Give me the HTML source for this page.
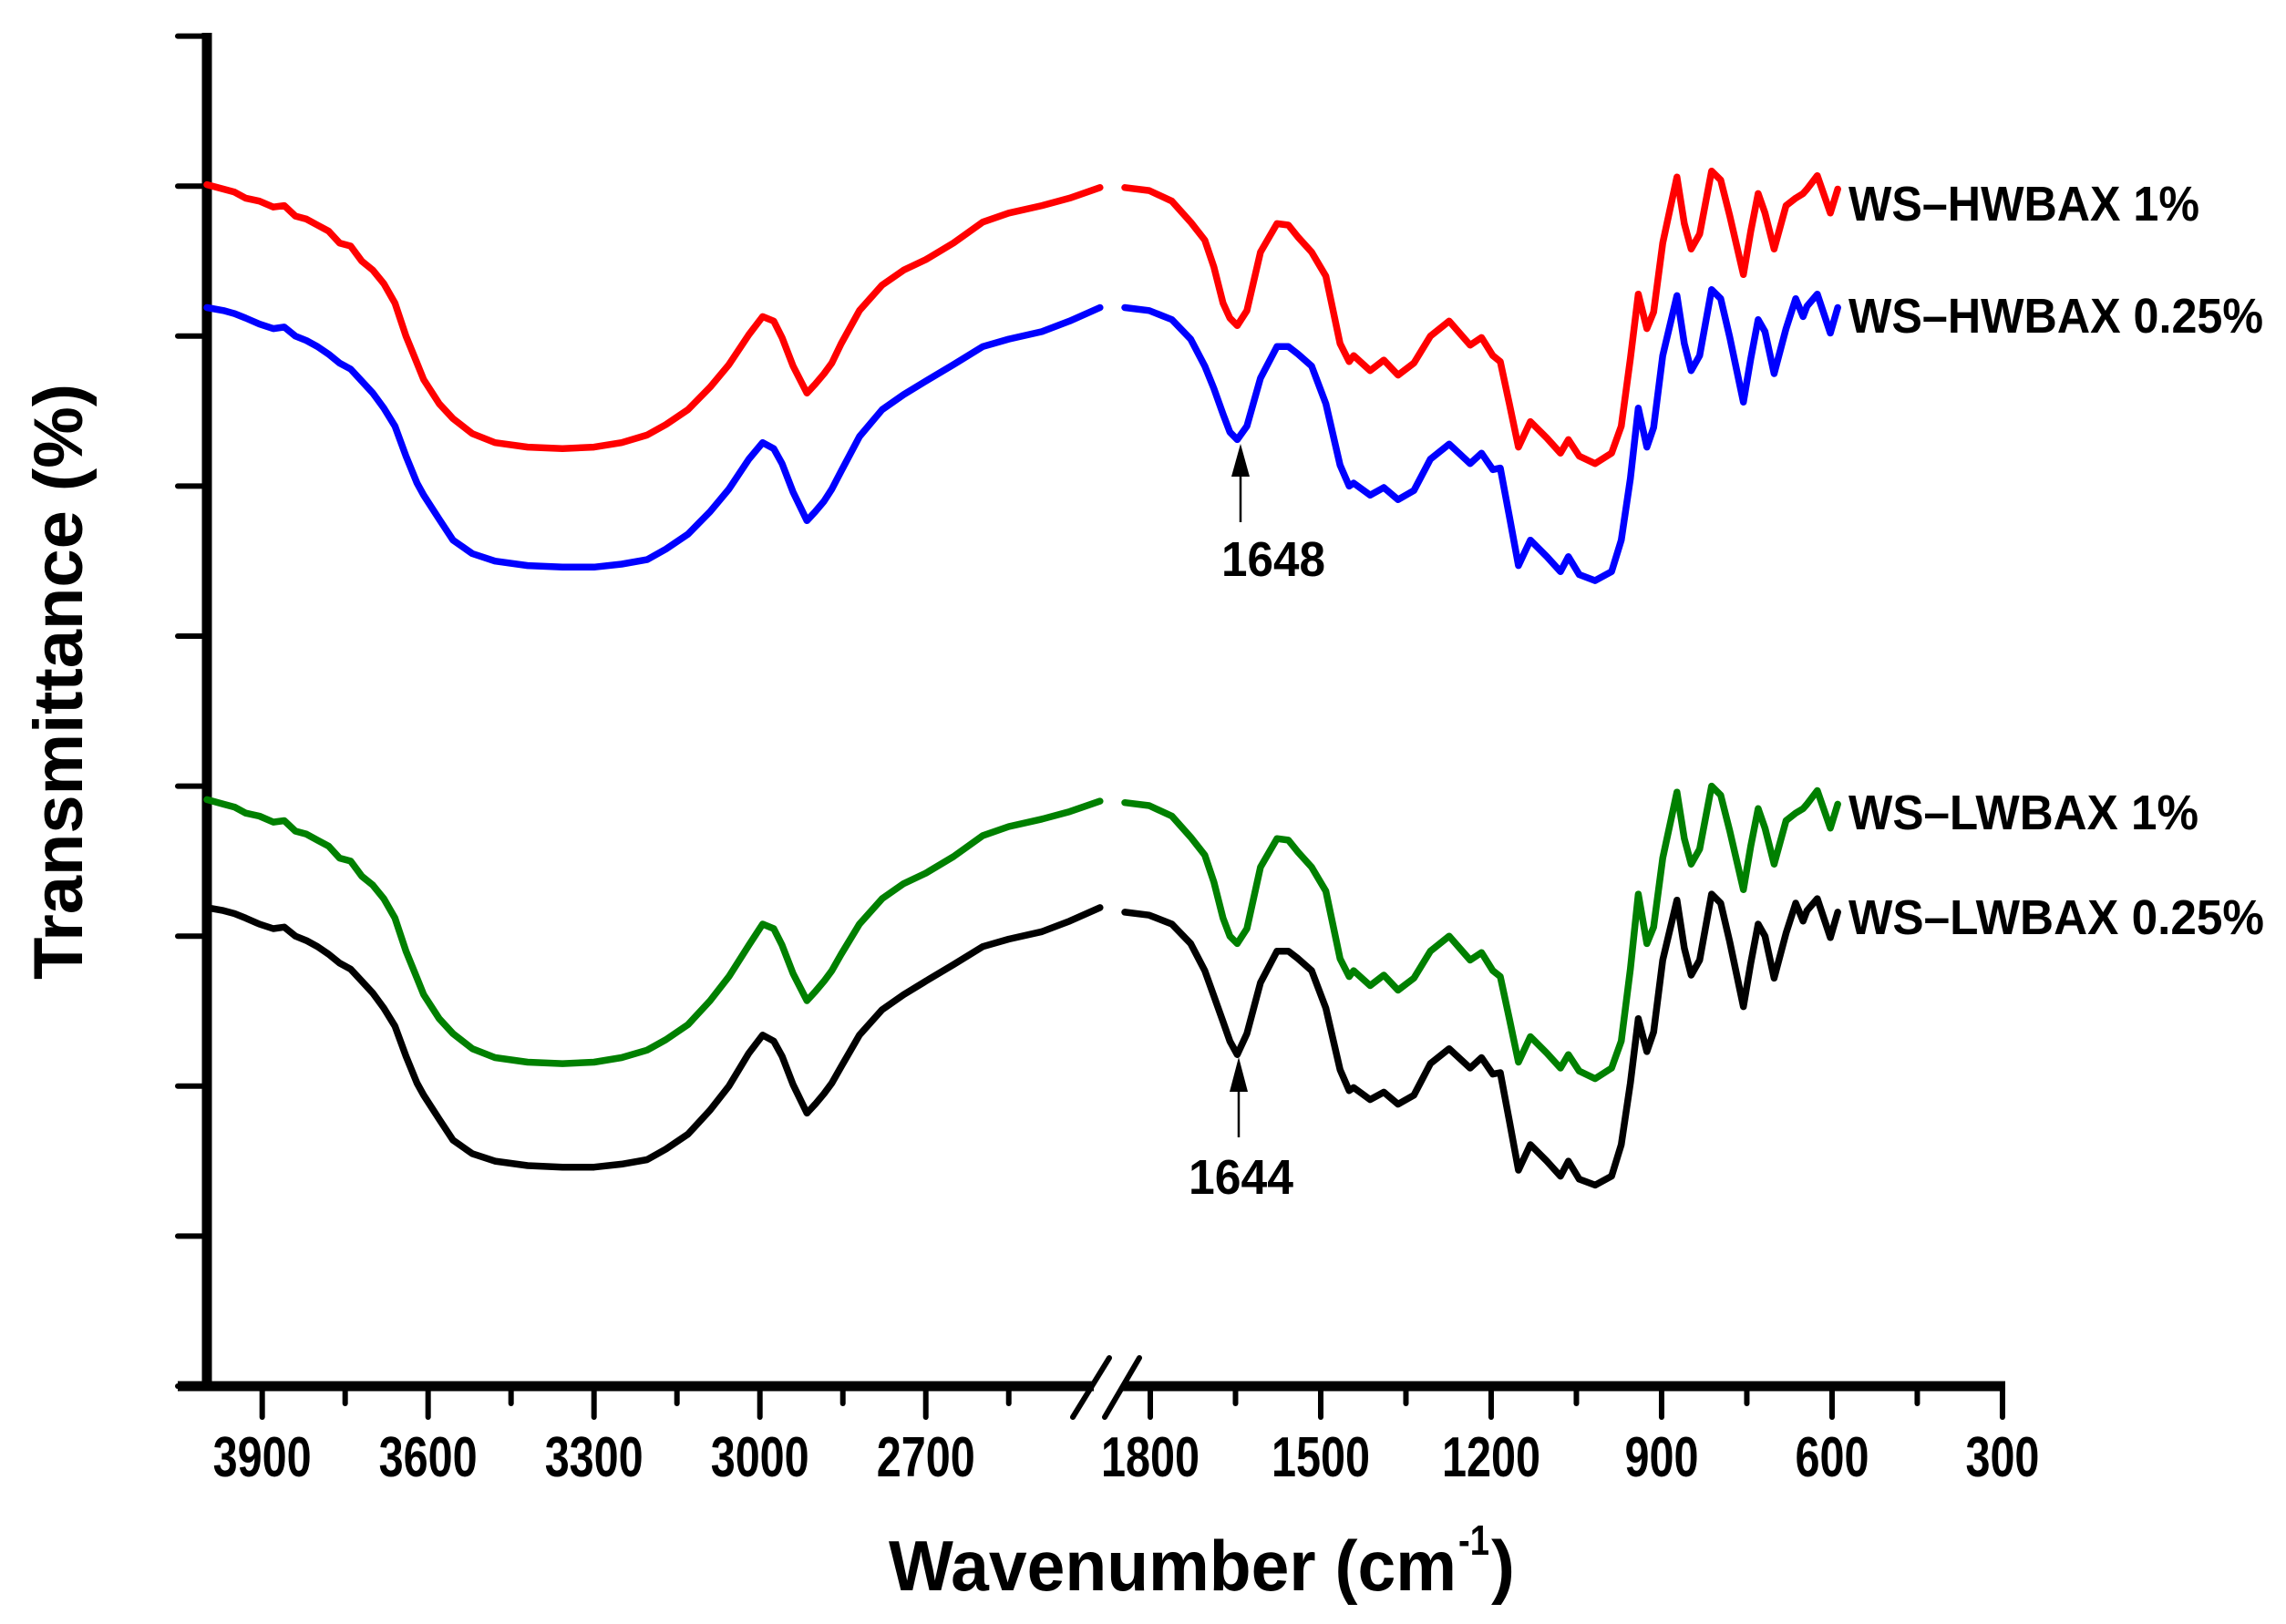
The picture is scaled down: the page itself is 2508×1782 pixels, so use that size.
<!DOCTYPE html>
<html><head><meta charset="utf-8">
<style>
html,body{margin:0;padding:0;background:#fff;}
svg{display:block;}
text{font-family:"Liberation Sans",Arial,sans-serif;font-weight:bold;fill:#000;}
</style></head>
<body>
<svg id="chart" width="2508" height="1782" viewBox="0 0 2508 1782" xmlns="http://www.w3.org/2000/svg">
<rect x="0" y="0" width="2508" height="1782" fill="#fff"/>
<g id="axes"></g>
<g id="series"></g>
<g id="labels">
<text transform="translate(90,748) rotate(-90)" text-anchor="middle" font-size="76" textLength="654" lengthAdjust="spacingAndGlyphs">Transmittance (%)</text>
<text x="975" y="1745" font-size="78" textLength="623" lengthAdjust="spacingAndGlyphs">Wavenumber (cm</text>
<text x="1600" y="1706" font-size="46" textLength="34" lengthAdjust="spacingAndGlyphs">-1</text>
<text x="1636" y="1745" font-size="78" textLength="26" lengthAdjust="spacingAndGlyphs">)</text>
<text x="2028" y="242" font-size="54" textLength="385" lengthAdjust="spacingAndGlyphs">WS–HWBAX 1%</text>
<text x="2028" y="365" font-size="54" textLength="455" lengthAdjust="spacingAndGlyphs">WS–HWBAX 0.25%</text>
<text x="2028" y="910" font-size="54" textLength="384" lengthAdjust="spacingAndGlyphs">WS–LWBAX 1%</text>
<text x="2028" y="1025" font-size="54" textLength="456" lengthAdjust="spacingAndGlyphs">WS–LWBAX 0.25%</text>
<text x="1340" y="632" font-size="54" textLength="114" lengthAdjust="spacingAndGlyphs">1648</text>
<line x1="1361" y1="573" x2="1361" y2="515" stroke="#000" stroke-width="2.5"/>
<polygon points="1361,487 1351,523 1371,523" fill="#000"/>
<text x="1304" y="1310" font-size="54" textLength="115" lengthAdjust="spacingAndGlyphs">1644</text>
<line x1="1359" y1="1248" x2="1359" y2="1190" stroke="#000" stroke-width="2.5"/>
<polygon points="1359,1160 1349,1198 1369,1198" fill="#000"/>
</g>
</svg>
<script>
// ---- data ----
const wLeft = [4000,3970,3950,3930,3905,3880,3860,3840,3820,3800,3780,3760,3740,3720,3700,3680,3660,3640,3620,3608,3580,3555,3520,3479,3420,3357,3300,3250,3204,3170,3130,3090,3056,3020,2995,2975,2960,2940,2915,2900,2884,2870,2853,2820,2779,2740,2700,2650,2597,2550,2490,2440,2385];
const wRight = [1845,1802,1762,1729,1704,1688,1672,1660,1647,1630,1606,1577,1557,1540,1516,1491,1466,1450,1442,1413,1389,1364,1336,1307,1274,1237,1217,1197,1184,1168,1152,1131,1102,1078,1064,1045,1017,988,971,955,941,926,914,898,873,860,848,833,812,796,780,756,743,730,718,702,681,664,651,644,626,603,590];
const redLeft = [8.01,7.98,7.96,7.92,7.90,7.86,7.87,7.80,7.78,7.74,7.70,7.62,7.60,7.50,7.44,7.35,7.22,7.00,6.82,6.71,6.55,6.45,6.35,6.29,6.26,6.25,6.26,6.29,6.34,6.41,6.51,6.66,6.81,7.01,7.13,7.10,6.99,6.80,6.62,6.68,6.75,6.82,6.95,7.17,7.34,7.44,7.51,7.62,7.76,7.82,7.87,7.92,7.99];
const blueLeft = [7.19,7.17,7.15,7.12,7.08,7.05,7.06,7.00,6.97,6.93,6.88,6.82,6.78,6.70,6.62,6.52,6.40,6.20,6.02,5.94,5.78,5.64,5.55,5.50,5.47,5.46,5.46,5.48,5.51,5.58,5.68,5.83,5.98,6.18,6.29,6.25,6.15,5.96,5.77,5.83,5.90,5.98,6.10,6.33,6.51,6.61,6.70,6.81,6.93,6.98,7.03,7.10,7.19];
const greenLeft = [3.91,3.88,3.86,3.82,3.80,3.76,3.77,3.70,3.68,3.64,3.60,3.52,3.50,3.40,3.34,3.25,3.12,2.90,2.72,2.61,2.45,2.35,2.25,2.19,2.16,2.15,2.16,2.19,2.24,2.31,2.41,2.57,2.73,2.94,3.08,3.05,2.94,2.75,2.57,2.63,2.70,2.77,2.88,3.08,3.25,3.35,3.42,3.53,3.67,3.73,3.78,3.83,3.90];
const blackLeft = [3.19,3.17,3.15,3.12,3.08,3.05,3.06,3.00,2.97,2.93,2.88,2.82,2.78,2.70,2.62,2.52,2.40,2.20,2.02,1.94,1.78,1.64,1.55,1.50,1.47,1.46,1.46,1.48,1.51,1.58,1.68,1.84,2.00,2.22,2.34,2.30,2.20,2.01,1.82,1.88,1.95,2.02,2.13,2.34,2.51,2.61,2.70,2.81,2.93,2.98,3.03,3.10,3.19];
const redRight = [7.99,7.97,7.90,7.76,7.64,7.46,7.22,7.12,7.07,7.17,7.56,7.75,7.74,7.66,7.56,7.40,6.95,6.83,6.87,6.77,6.84,6.74,6.82,7.00,7.10,6.94,6.99,6.87,6.83,6.55,6.26,6.43,6.32,6.22,6.31,6.20,6.15,6.22,6.40,6.85,7.28,7.05,7.16,7.62,8.06,7.75,7.58,7.68,8.10,8.04,7.80,7.41,7.70,7.95,7.82,7.58,7.87,7.92,7.95,7.98,8.07,7.82,7.98];
const blueRight = [7.19,7.17,7.11,6.98,6.80,6.65,6.48,6.36,6.31,6.40,6.72,6.93,6.93,6.88,6.80,6.55,6.14,6.00,6.02,5.94,5.99,5.91,5.97,6.18,6.28,6.15,6.22,6.11,6.12,5.80,5.47,5.64,5.53,5.43,5.53,5.41,5.37,5.43,5.64,6.05,6.52,6.26,6.39,6.87,7.27,6.95,6.77,6.87,7.31,7.25,6.99,6.56,6.85,7.11,7.03,6.75,7.05,7.25,7.13,7.20,7.28,7.02,7.19];
const greenRight = [3.89,3.87,3.80,3.66,3.54,3.36,3.12,3.00,2.95,3.05,3.46,3.65,3.64,3.56,3.46,3.30,2.85,2.73,2.77,2.67,2.74,2.64,2.72,2.90,3.00,2.84,2.89,2.77,2.73,2.45,2.16,2.33,2.22,2.12,2.21,2.10,2.05,2.12,2.30,2.78,3.28,2.95,3.06,3.52,3.96,3.65,3.48,3.58,4.00,3.94,3.70,3.31,3.60,3.85,3.72,3.48,3.77,3.82,3.85,3.88,3.97,3.72,3.88];
const blackRight = [3.16,3.14,3.08,2.95,2.77,2.60,2.43,2.30,2.21,2.35,2.69,2.90,2.90,2.85,2.77,2.52,2.11,1.97,1.99,1.91,1.96,1.88,1.94,2.15,2.25,2.12,2.19,2.08,2.09,1.77,1.44,1.61,1.50,1.40,1.50,1.38,1.34,1.40,1.61,2.02,2.45,2.23,2.36,2.84,3.24,2.92,2.74,2.84,3.28,3.22,2.96,2.53,2.82,3.08,3.00,2.72,3.02,3.22,3.10,3.17,3.25,2.99,3.16];
const leftTickLabels = [3900,3600,3300,3000,2700];
const leftMinorTicks = [3750,3450,3150,2850,2550];
const rightTickLabels = [1800,1500,1200,900,600,300];
const rightMinorTicks = [1650,1350,1050,750,450];
const yTicks = [0,1,2,3,4,5,6,7,8,9];

// ---- scales ----
const NS = "http://www.w3.org/2000/svg";
function xL(w){ return 227 + (4000 - w) * 0.6067; }
function xR(w){ return 1262 + (1800 - w) * 0.6233; }
function yS(v){ return 1521 - v * 164.6; }
function mk(tag, attrs, parent){
  const e = document.createElementNS(NS, tag);
  for (const k in attrs) e.setAttribute(k, attrs[k]);
  parent.appendChild(e);
  return e;
}
const axes = document.getElementById('axes');
const series = document.getElementById('series');

let el = mk('line', {x1:195, y1:1521, x2:1200, y2:1521, stroke:'#000','stroke-width':11}, axes);


el = mk('line', {x1:1232, y1:1521, x2:2200, y2:1521, stroke:'#000','stroke-width':11}, axes);


el = mk('line', {x1:227, y1:36, x2:227, y2:1526, stroke:'#000','stroke-width':11}, axes);


el = mk('rect', {x:1200, y:1508, width:32, height:26, fill:'#fff'}, axes);


el = mk('line', {x1:1177, y1:1555, x2:1217, y2:1490, stroke:'#000','stroke-width':6,'stroke-linecap':'round'}, axes);


el = mk('line', {x1:1212, y1:1555, x2:1250, y2:1490, stroke:'#000','stroke-width':6,'stroke-linecap':'round'}, axes);



yTicks.forEach(function(v){
  const t = mk('line', {x1:195, y1:yS(v), x2:224, y2:yS(v), stroke:'#000','stroke-width':6,'stroke-linecap':'round'}, axes);
  
  
});
function xTick(x, major, label){
  const t = mk('line', {x1:x, y1:1524, x2:x, y2:major?1555:1540, stroke:'#000','stroke-width':6,'stroke-linecap':'round'}, axes);
  
  
  if (label !== undefined){
    const s = String(label);
    const tx = mk('text', {x:x, y:1620, 'font-size':62, 'text-anchor':'middle', textLength: s.length*27, lengthAdjust:'spacingAndGlyphs'}, axes);
    tx.textContent = s;
    
    
  }
}
leftTickLabels.forEach(function(w){ xTick(xL(w), true, w); });
leftMinorTicks.forEach(function(w){ xTick(xL(w), false); });
rightTickLabels.forEach(function(w){ xTick(xR(w), true, w); });
rightMinorTicks.forEach(function(w){ xTick(xR(w), false); });

function drawSeries(wArr, vArr, fx, color, name){
  let d = '';
  for (let i = 0; i < wArr.length; i++){
    d += (i ? 'L' : 'M') + fx(wArr[i]).toFixed(1) + ' ' + yS(vArr[i]).toFixed(1);
  }
  const p = mk('path', {d:d, fill:'none', stroke:color, 'stroke-width':7.5, 'stroke-linejoin':'round', 'stroke-linecap':'round'}, series);
  
  
}
drawSeries(wLeft, redLeft, xL, '#ff0000', 'series-ws-hwbax-1-left');
drawSeries(wRight, redRight, xR, '#ff0000', 'series-ws-hwbax-1-right');
drawSeries(wLeft, blueLeft, xL, '#0000ff', 'series-ws-hwbax-025-left');
drawSeries(wRight, blueRight, xR, '#0000ff', 'series-ws-hwbax-025-right');
drawSeries(wLeft, greenLeft, xL, '#008000', 'series-ws-lwbax-1-left');
drawSeries(wRight, greenRight, xR, '#008000', 'series-ws-lwbax-1-right');
drawSeries(wLeft, blackLeft, xL, '#000000', 'series-ws-lwbax-025-left');
drawSeries(wRight, blackRight, xR, '#000000', 'series-ws-lwbax-025-right');
</script>
</body></html>
